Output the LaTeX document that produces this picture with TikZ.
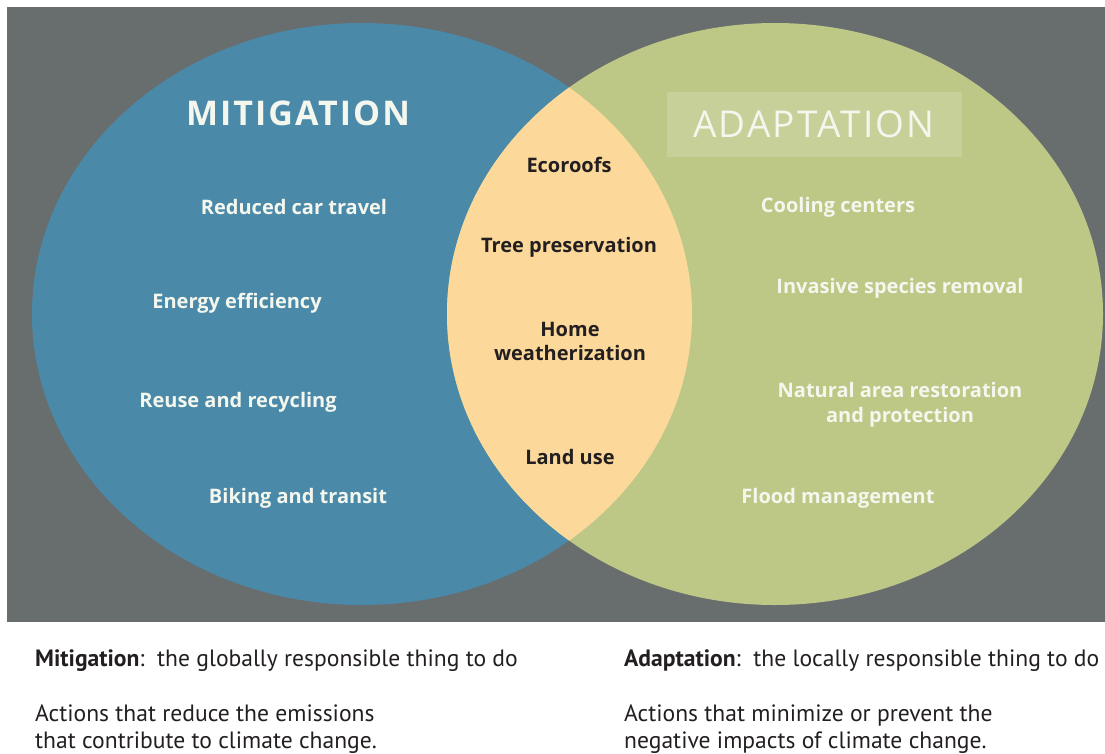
\documentclass[tikz,border=0pt]{standalone}
\usepackage{fontspec}
\setmainfont{PT Sans}
\newfontfamily\vennfont{Open Sans}
\newfontfamily\headfont[LetterSpace=6]{Open Sans}
\usepackage{xcolor}

\definecolor{slate}{HTML}{686D6E}
\definecolor{mitblue}{HTML}{4B89A9}
\definecolor{adagreen}{HTML}{BDC886}
\definecolor{overlap}{HTML}{FCD99A}
\definecolor{ink}{HTML}{231F20}
\definecolor{chalk}{HTML}{F4F7EE}

\tikzset{
    item/.style={text=chalk, font=\vennfont\bfseries\fontsize{20}{24}\selectfont, align=center, inner sep=0pt},
    shared/.style={item, text=ink},
    heading/.style={text=chalk, font=\headfont\fontsize{37}{40}\selectfont, inner sep=0pt},
    caption/.style={text=ink, font=\fontsize{23.6}{27}\selectfont, align=left, anchor=base west, inner sep=0pt}
}

\begin{document}
\begin{tikzpicture}[x=1pt, y=-1pt]
    \useasboundingbox (0,0) rectangle (1105,753);

    % Backdrop
    \fill[slate] (7,7) rectangle (1105,622);

    % The two sets and their overlap
    \fill[mitblue] (362,314) ellipse [x radius=330pt, y radius=291pt];
    \fill[adagreen] (775,314) ellipse [x radius=328pt, y radius=291pt];
    \begin{scope}
        \clip (362,314) ellipse [x radius=330pt, y radius=291pt];
        \fill[overlap] (775,314) ellipse [x radius=328pt, y radius=291pt];
    \end{scope}

    % Headings
    \node[heading, font=\headfont\bfseries\fontsize{34}{40}\selectfont] (mitTitle) at (298,113) {MITIGATION};
    \node[heading, fill=white, fill opacity=0.16, text opacity=1, minimum width=295pt, minimum height=65pt] (adaTitle) at (814,124) {ADAPTATION};

    % Mitigation only
    \node[item] (carTravel) at (294,207) {Reduced car travel};
    \node[item] (energy) at (237,303) {Energy efficiency};
    \node[item] (recycling) at (238,402) {Reuse and recycling};
    \node[item] (biking) at (298,498) {Biking and transit};

    % Both
    \node[shared] (ecoroofs) at (569,165) {Ecoroofs};
    \node[shared] (trees) at (569,247) {Tree preservation};
    \node[shared] (weather) at (570,341) {Home\\weatherization};
    \node[shared] (landUse) at (570,457) {Land use};

    % Adaptation only
    \node[item] (cooling) at (838,207) {Cooling centers};
    \node[item] (invasive) at (900,288) {Invasive species removal};
    \node[item, font=\vennfont\bfseries\fontsize{20}{25}\selectfont] (naturalArea) at (900,405) {Natural area restoration\\and protection};
    \node[item] (flood) at (838,498) {Flood management};

    % Notes under the panel
    \node[caption] (mitNote) at (35,666) {\textbf{Mitigation}:\ \ the globally responsible thing to do};
    \node[caption] (mitDesc) at (35,748) {Actions that reduce the emissions\\that contribute to climate change.};
    \node[caption] (adaNote) at (624,666) {\textbf{Adaptation}:\ \ the locally responsible thing to do};
    \node[caption] (adaDesc) at (624,748) {Actions that minimize or prevent the\\negative impacts of climate change.};
\end{tikzpicture}
\end{document}
